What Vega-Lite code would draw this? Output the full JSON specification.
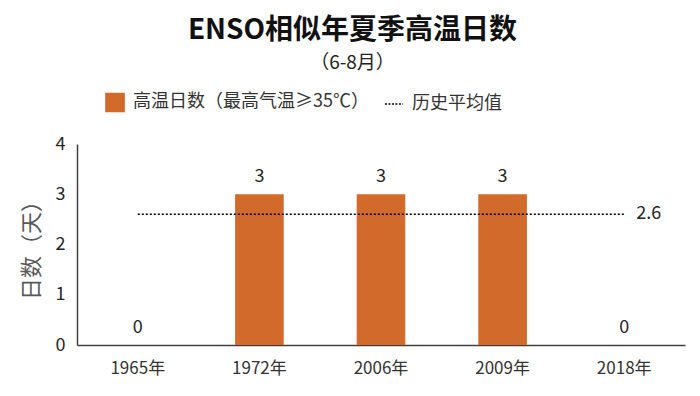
{
  "$schema": "https://vega.github.io/schema/vega-lite/v6.json",
  "autosize": {"type": "none"},
  "width": 608,
  "height": 201,
  "padding": {"left": 77, "top": 144, "right": 15, "bottom": 51},
  "background": "white",
  "config": {
    "font": "Noto Sans CJK SC",
    "view": {"stroke": null}
  },
  "title": {
    "text": "ENSO相似年夏季高温日数",
    "subtitle": "（6-8月）",
    "anchor": "middle",
    "frame": "bounds",
    "font": "Noto Sans CJK SC",
    "fontSize": 28,
    "fontWeight": "bold",
    "color": "#111111",
    "subtitleFont": "Noto Sans CJK SC",
    "subtitleFontSize": 19,
    "subtitleColor": "#222222",
    "subtitlePadding": 9,
    "offset": 19
  },
  "datasets": {
    "bars": [
      {"year": "1965年", "days": 0, "series": "高温日数（最高气温≥35℃）"},
      {"year": "1972年", "days": 3, "series": "高温日数（最高气温≥35℃）"},
      {"year": "2006年", "days": 3, "series": "高温日数（最高气温≥35℃）"},
      {"year": "2009年", "days": 3, "series": "高温日数（最高气温≥35℃）"},
      {"year": "2018年", "days": 0, "series": "高温日数（最高气温≥35℃）"}
    ],
    "avg": [
      {"start": "1965年", "end": "2018年", "avg": 2.6, "series": "历史平均值"}
    ]
  },
  "encoding": {
    "x": {
      "field": "year",
      "type": "ordinal",
      "sort": null,
      "scale": {"domain": ["1965年", "1972年", "2006年", "2009年", "2018年"], "paddingInner": 0.6, "paddingOuter": 0.3},
      "axis": {
        "title": null,
        "labelAngle": 0,
        "ticks": false,
        "labelPadding": 15,
        "labelFontSize": 17,
        "labelColor": "#333333",
        "labelFont": "Noto Sans CJK SC",
        "domainColor": "#404040",
        "domainWidth": 1.5
      }
    }
  },
  "layer": [
    {
      "data": {"name": "bars"},
      "mark": {"type": "bar"},
      "encoding": {
        "y": {
          "field": "days",
          "type": "quantitative",
          "scale": {"domain": [0, 4]},
          "axis": {
            "title": "日数（天）",
            "titleFontSize": 22,
            "titleFontWeight": "normal",
            "titleColor": "#595959",
            "titlePadding": 12,
            "values": [0, 1, 2, 3, 4],
            "format": "d",
            "labelOverlap": false,
            "grid": false,
            "ticks": false,
            "labelPadding": 12,
            "labelFontSize": 18,
            "labelColor": "#262626",
            "domainColor": "#404040",
            "domainWidth": 1.5
          }
        },
        "color": {
          "field": "series",
          "type": "nominal",
          "scale": {"domain": ["高温日数（最高气温≥35℃）", "历史平均值"], "range": ["#D26A2C", "#000000"]},
          "legend": {
            "title": null,
            "orient": "none",
            "legendX": 28,
            "legendY": -52,
            "direction": "horizontal",
            "columns": 2,
            "columnPadding": 12,
            "labelFontSize": 18,
            "labelLimit": 500,
            "labelColor": "#333333",
            "labelFont": "Noto Sans CJK SC",
            "labelOffset": 8,
            "symbolSize": 330,
            "encode": {
              "symbols": {
                "update": {
                  "shape": [{"test": "datum.value === '历史平均值'", "value": "stroke"}, {"value": "square"}],
                  "fill": [{"test": "datum.value === '历史平均值'", "value": "transparent"}, {"value": "#D26A2C"}],
                  "stroke": [{"test": "datum.value === '历史平均值'", "value": "#000000"}, {"value": "#D26A2C"}],
                  "strokeDash": [{"test": "datum.value === '历史平均值'", "value": [2, 1.5]}, {"value": [1, 0]}],
                  "strokeWidth": {"value": 1.5}
                }
              }
            }
          }
        }
      }
    },
    {
      "data": {"name": "bars"},
      "mark": {"type": "text", "baseline": "bottom", "dy": -8, "fontSize": 18, "color": "#262626"},
      "encoding": {
        "y": {"field": "days", "type": "quantitative"},
        "text": {"field": "days", "type": "quantitative"}
      }
    },
    {
      "data": {"name": "avg"},
      "mark": {"type": "rule", "strokeDash": [2, 2], "strokeWidth": 1.5},
      "encoding": {
        "x": {"field": "start", "type": "ordinal"},
        "x2": {"field": "end"},
        "y": {"field": "avg", "type": "quantitative"},
        "color": {"field": "series", "type": "nominal"}
      }
    },
    {
      "data": {"name": "avg"},
      "mark": {"type": "text", "align": "left", "baseline": "middle", "dx": 12, "fontSize": 18, "color": "#262626"},
      "encoding": {
        "x": {"field": "end", "type": "ordinal"},
        "y": {"field": "avg", "type": "quantitative"},
        "text": {"field": "avg", "type": "quantitative", "format": ".1f"}
      }
    }
  ]
}
